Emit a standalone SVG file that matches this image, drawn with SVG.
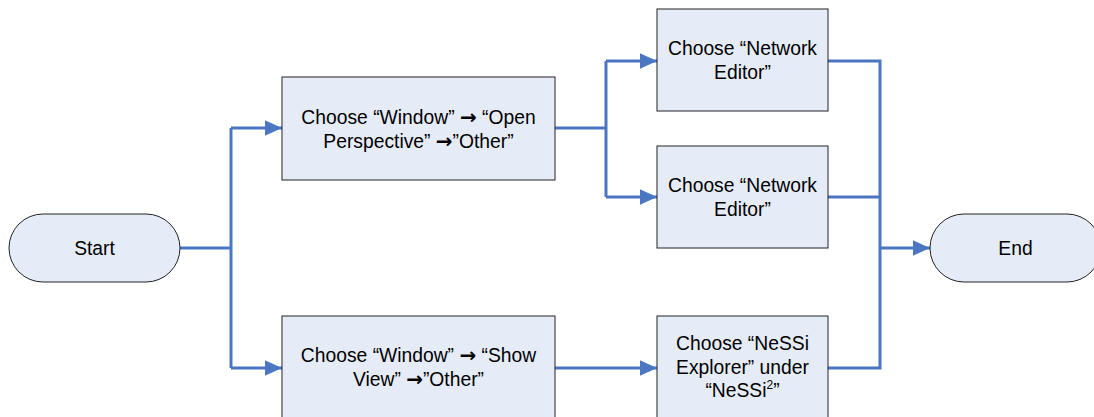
<svg xmlns="http://www.w3.org/2000/svg" width="1094" height="417" viewBox="0 0 1094 417">
<style>
.box{fill:#E6ECF7;stroke:#222;stroke-width:1}
.t{font-family:"Liberation Sans",Arial,sans-serif;font-size:19.3px;fill:#000;text-anchor:middle}
.ar{font-family:"DejaVu Sans",sans-serif;font-size:20px;font-weight:bold}
.c{fill:none;stroke:#4A76C2;stroke-width:3}
</style>
<defs>
<marker id="ah" viewBox="0 0 10 10" refX="10" refY="5" markerWidth="5.8" markerHeight="5.3" orient="auto" markerUnits="strokeWidth" preserveAspectRatio="none">
<path d="M0,0 L10,5 L0,10 z" fill="#4A76C2"/>
</marker>
</defs>
<rect width="1094" height="417" fill="#fff"/>
<g id="connectors">
<path class="c" d="M180,248 H231"/>
<path class="c" d="M231,128 V368"/>
<path class="c" d="M231,128 H282" marker-end="url(#ah)"/>
<path class="c" d="M231,368 H282" marker-end="url(#ah)"/>
<path class="c" d="M555,128 H606"/>
<path class="c" d="M606,61 V197"/>
<path class="c" d="M606,61 H657" marker-end="url(#ah)"/>
<path class="c" d="M606,197 H657" marker-end="url(#ah)"/>
<path class="c" d="M555,368 H657" marker-end="url(#ah)"/>
<path class="c" d="M828,61 H880 V368 H828"/>
<path class="c" d="M828,197 H880"/>
<path class="c" d="M880,248 H930" marker-end="url(#ah)"/>
</g>
<g id="start">
<rect class="box" x="9" y="214" width="171" height="68" rx="34" ry="34"/>
<text class="t" x="94.5" y="255">Start</text>
</g>
<g id="open-perspective">
<rect class="box" x="282" y="77" width="273" height="103"/>
<text class="t" x="418.5" y="124">Choose “Window” <tspan class="ar">→</tspan> “Open</text>
<text class="t" x="418.5" y="148">Perspective” <tspan class="ar">→</tspan>”Other”</text>
</g>
<g id="show-view">
<rect class="box" x="282" y="316" width="273" height="110"/>
<text class="t" x="418.5" y="362">Choose “Window” <tspan class="ar">→</tspan> “Show</text>
<text class="t" x="418.5" y="386">View” <tspan class="ar">→</tspan>”Other”</text>
</g>
<g id="network-editor-1">
<rect class="box" x="657" y="9" width="171" height="102"/>
<text class="t" x="742.5" y="55">Choose “Network</text>
<text class="t" x="742.5" y="79">Editor”</text>
</g>
<g id="network-editor-2">
<rect class="box" x="657" y="146" width="171" height="102"/>
<text class="t" x="742.5" y="192">Choose “Network</text>
<text class="t" x="742.5" y="216">Editor”</text>
</g>
<g id="nessi-explorer">
<rect class="box" x="657" y="316" width="171" height="110"/>
<text class="t" x="742.5" y="350">Choose “NeSSi</text>
<text class="t" x="742.5" y="374">Explorer” under</text>
<text class="t" x="742.5" y="397">“NeSSi<tspan font-size="12" dy="-8">2</tspan><tspan dy="8">”</tspan></text>
</g>
<g id="end">
<rect class="box" x="930" y="214" width="171" height="68" rx="34" ry="34"/>
<text class="t" x="1015.5" y="255">End</text>
</g>
</svg>
